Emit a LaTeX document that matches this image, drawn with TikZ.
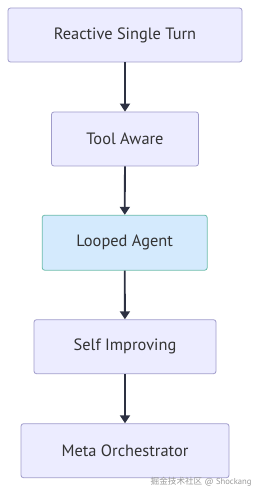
\documentclass[tikz,border=0pt]{standalone}
\usepackage{fontspec}
\setmainfont{PT Sans}
\newfontfamily\cjk{Noto Sans CJK SC}
\usetikzlibrary{arrows.meta}
\definecolor{boxfill}{HTML}{ECECFF}
\definecolor{boxline}{HTML}{A09CCB}
\definecolor{hlfill}{HTML}{D4EAFD}
\definecolor{hlline}{HTML}{6DBDAC}
\definecolor{arrowc}{HTML}{2D3142}
\definecolor{txt}{HTML}{333333}
\definecolor{wm}{HTML}{9A9A9A}
\tikzset{
  stage/.style={draw=boxline, fill=boxfill, line width=0.8pt, rounded corners=2.5pt,
    text=txt, font=\fontsize{16.4}{18}\selectfont, inner sep=0pt},
  hl/.style={stage, draw=hlline, fill=hlfill},
  flow/.style={draw=arrowc, line width=1.8pt, -{Triangle[length=8pt,width=10pt]}},
}
\begin{document}
\begin{tikzpicture}[x=1pt,y=-1pt]
\useasboundingbox[fill=white] (0,0) rectangle (258,494);
\node[stage, minimum width=234pt, minimum height=54pt] (a) at (125,35) {Reactive Single Turn};
\node[stage, minimum width=147pt, minimum height=54pt] (b) at (125,139) {Tool Aware};
\node[hl, minimum width=165pt, minimum height=55pt] (c) at (124.7,242.7) {Looped Agent};
\node[stage, minimum width=182pt, minimum height=54pt] (d) at (125,346.7) {Self Improving};
\node[stage, minimum width=208pt, minimum height=54pt] (e) at (125,450.7) {Meta Orchestrator};
\draw[flow] (a) -- (b);
\draw[flow] (b) -- (c);
\draw[flow] (c) -- (d);
\draw[flow] (d) -- (e);
\node[anchor=west, text=wm, inner sep=0pt, font=\fontsize{8.6}{9}\selectfont] (wm) at (150.5,481.5) {{\cjk 掘金技术社区} @ Shockang};
\end{tikzpicture}
\end{document}
